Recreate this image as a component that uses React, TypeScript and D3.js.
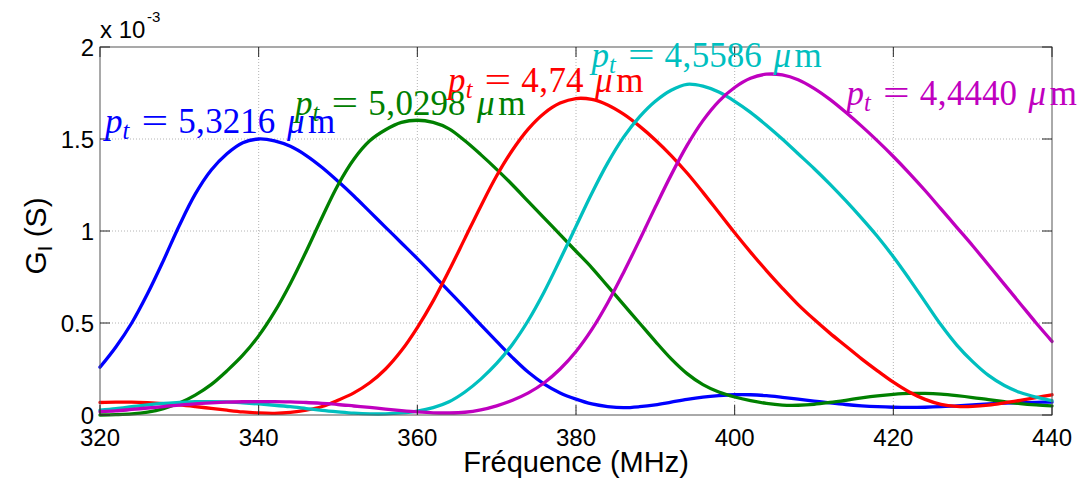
import React from 'react';
import * as d3 from 'd3';

// Frequency samples (MHz)
const freqMHz = [
  320, 322, 324, 326, 328, 330, 332, 334, 336, 338,
  340, 342, 344, 346, 348, 350, 352, 354, 356, 358,
  360, 362, 364, 366, 368, 370, 372, 374, 376, 378,
  380, 382, 384, 386, 388, 390, 392, 394, 396, 398,
  400, 402, 404, 406, 408, 410, 412, 414, 416, 418,
  420, 422, 424, 426, 428, 430, 432, 434, 436, 438, 440,
];

// Conductance G_I in units of 1e-3 S
const gBlue = [
  0.26, 0.37, 0.5, 0.66, 0.84, 1.03, 1.2, 1.33, 1.42, 1.48,
  1.5, 1.49, 1.46, 1.41, 1.345, 1.27, 1.19, 1.105, 1.02, 0.935,
  0.85, 0.762, 0.672, 0.582, 0.49, 0.4, 0.312, 0.232, 0.168, 0.12,
  0.086, 0.06, 0.046, 0.04, 0.045, 0.055, 0.07, 0.085, 0.097, 0.105,
  0.11, 0.11, 0.105, 0.096, 0.086, 0.076, 0.066, 0.057, 0.05, 0.045,
  0.042, 0.041, 0.042, 0.045, 0.05, 0.055, 0.06, 0.064, 0.067, 0.069, 0.07,
];
const gGreen = [
  0.0, 0.002, 0.006, 0.016, 0.035, 0.065, 0.108, 0.165, 0.24, 0.325,
  0.43, 0.56, 0.715, 0.89, 1.075, 1.25, 1.39, 1.49, 1.55, 1.59,
  1.602, 1.59, 1.555, 1.49, 1.415, 1.335, 1.25, 1.16, 1.07, 0.98,
  0.89, 0.8, 0.7, 0.6, 0.5, 0.4, 0.305, 0.225, 0.165, 0.125,
  0.098, 0.078, 0.063, 0.054, 0.053, 0.058, 0.068, 0.08, 0.093, 0.104,
  0.112, 0.117, 0.117, 0.113, 0.105, 0.095, 0.083, 0.072, 0.062, 0.055, 0.05,
];
const gRed = [
  0.068, 0.07, 0.07, 0.067, 0.062, 0.055, 0.046, 0.036, 0.026, 0.017,
  0.011, 0.009, 0.014, 0.026, 0.046, 0.08, 0.12, 0.175, 0.25, 0.35,
  0.475, 0.62, 0.785, 0.96, 1.135, 1.3, 1.44, 1.555, 1.64, 1.695,
  1.72, 1.715, 1.685, 1.635, 1.57, 1.495, 1.41, 1.315, 1.21, 1.1,
  0.99, 0.885, 0.785, 0.69, 0.6, 0.52, 0.445, 0.375, 0.305, 0.24,
  0.178, 0.125, 0.085, 0.058, 0.047, 0.047, 0.054, 0.066, 0.08, 0.095, 0.11,
];
const gCyan = [
  0.027, 0.035, 0.045, 0.055, 0.063, 0.068, 0.072, 0.073, 0.071, 0.066,
  0.06, 0.053, 0.045, 0.035, 0.025, 0.017, 0.01, 0.006, 0.006, 0.011,
  0.021, 0.04, 0.072, 0.125, 0.195, 0.28, 0.385, 0.515, 0.67, 0.845,
  1.025, 1.205, 1.37, 1.51, 1.62, 1.705, 1.765, 1.797, 1.787, 1.755,
  1.705, 1.645, 1.575, 1.5, 1.42, 1.34, 1.255, 1.165, 1.07, 0.97,
  0.86, 0.74, 0.615, 0.49, 0.38, 0.29, 0.215, 0.16, 0.122, 0.097, 0.078,
];
const gMagenta = [
  0.018, 0.022, 0.03, 0.038, 0.046, 0.054, 0.061, 0.066, 0.07, 0.072,
  0.073, 0.073, 0.071, 0.068, 0.063, 0.057, 0.049, 0.041, 0.032, 0.024,
  0.017, 0.012, 0.011, 0.015, 0.028, 0.05, 0.08, 0.12, 0.175, 0.25,
  0.345, 0.465, 0.61, 0.775, 0.95, 1.13, 1.305, 1.465, 1.6, 1.705,
  1.78, 1.83, 1.852, 1.848, 1.822, 1.775, 1.715, 1.645, 1.57, 1.49,
  1.405, 1.315, 1.22, 1.12, 1.02, 0.92, 0.815, 0.71, 0.605, 0.5, 0.4,
];

const seriesValues = [gBlue, gGreen, gRed, gCyan, gMagenta];
const seriesColors = ['#0000ff', '#008000', '#ff0000', '#00bfbf', '#bf00bf'];
const seriesPitch = ['5,3216', '5,0298', '4,74', '4,5586', '4,4440'];
// label anchor (left of "p", baseline) in data units
const labelFreq = [320.63, 344.58, 363.87, 381.95, 414.1];
const labelG = [1.533, 1.63, 1.757, 1.89, 1.685];

const xTicks = [320, 340, 360, 380, 400, 420, 440];
const yTicks = [0, 0.5, 1, 1.5, 2];
const yTickLabels = ['0', '0.5', '1', '1.5', '2'];

const SANS = "'Liberation Sans', Arial, Helvetica, sans-serif";
const SERIF = "'Liberation Serif', 'Times New Roman', serif";

function MathLabel({ x0, y0, pitch, color }: { x0: number; y0: number; pitch: string; color: string }) {
  const em = 35;
  const tStart = 0.503 * em;
  const eqCenter = (0.503 + 0.253 + 0.278 + 0.389) * em;
  const numStart = (0.503 + 0.253 + 0.278 + 0.778 + 0.278) * em;
  let numW = 0;
  for (const ch of pitch) numW += ch === ',' ? 0.278 : 0.5;
  const muStart = numStart + (numW + 0.333) * em;
  const mStart = muStart + 0.603 * em;
  let cx = numStart;
  const digits = pitch.split('').map((ch, i) => {
    const w = (ch === ',' ? 0.278 : 0.5) * em;
    const el = (
      <text key={i} x={cx + w / 2} y={0} fontSize={em} textAnchor="middle">{ch}</text>
    );
    cx += w;
    return el;
  });
  return (
    <g transform={`translate(${x0},${y0})`} fill={color} fontFamily={SERIF}>
      <text x={0} y={0} fontSize={em} fontStyle="italic">p</text>
      <text x={tStart} y={0.17 * em} fontSize={em * 0.7} fontStyle="italic">t</text>
      <text
        x={0}
        y={0}
        fontSize={em}
        textAnchor="middle"
        transform={`translate(${eqCenter},0) scale(1.35,1)`}
      >=</text>
      {digits}
      <text x={muStart} y={0} fontSize={em} fontStyle="italic">μ</text>
      <text x={mStart} y={0} fontSize={em}>m</text>
    </g>
  );
}

export default function App() {
  const W = 1080;
  const H = 480;
  const x = d3.scaleLinear().domain([320, 440]).range([100, 1052]);
  const y = d3.scaleLinear().domain([0, 2]).range([415, 47]);
  const [x0, x1] = x.range();
  const [yb, yt] = y.range();

  const line = d3
    .line<number>()
    .x((_, i) => x(freqMHz[i]))
    .y((d) => y(d))
    .curve(d3.curveCatmullRom.alpha(0.5));

  const tickLen = 10;
  const axisColor = '#262626';

  return (
    <>
      <style>{`body{margin:0}`}</style>
      <svg width={W} height={H} style={{ display: 'block', background: '#fff' }}>
        <rect x={0} y={0} width={W} height={H} fill="#fff" />
        {/* grid */}
        <g stroke="#b4b4b4" strokeWidth={1} strokeDasharray="1,2">
          {xTicks.slice(1, -1).map((t) => (
            <line key={'gx' + t} x1={x(t)} x2={x(t)} y1={yt} y2={yb} />
          ))}
          {yTicks.slice(1, -1).map((t) => (
            <line key={'gy' + t} x1={x0} x2={x1} y1={y(t)} y2={y(t)} />
          ))}
        </g>
        {/* curves */}
        <g fill="none" strokeWidth={3.3} strokeLinejoin="round" strokeLinecap="round">
          {seriesValues.map((vals, i) => (
            <path key={i} d={line(vals) || ''} stroke={seriesColors[i]} />
          ))}
        </g>
        {/* axes box & ticks */}
        <g stroke={axisColor} strokeWidth={1}>
          <rect x={x0} y={yt} width={x1 - x0} height={yb - yt} fill="none" stroke="#555" />
          {xTicks.map((t) => (
            <g key={'tx' + t}>
              <line x1={x(t)} x2={x(t)} y1={yb} y2={yb - tickLen} />
              <line x1={x(t)} x2={x(t)} y1={yt} y2={yt + tickLen} />
            </g>
          ))}
          {yTicks.map((t) => (
            <g key={'ty' + t}>
              <line x1={x0} x2={x0 + tickLen} y1={y(t)} y2={y(t)} />
              <line x1={x1} x2={x1 - tickLen} y1={y(t)} y2={y(t)} />
            </g>
          ))}
        </g>
        {/* tick labels */}
        <g fontFamily={SANS} fontSize={24} fill="#000">
          {xTicks.map((t) => (
            <text key={'lx' + t} x={x(t)} y={yb + 30.5} textAnchor="middle">{t}</text>
          ))}
          {yTicks.map((t, i) => (
            <text key={'ly' + t} x={x0 - 6} y={y(t) + 8.6} textAnchor="end">{yTickLabels[i]}</text>
          ))}
          <text x={x0} y={38}>x 10</text>
          <text x={147} y={22} fontSize={15}>-3</text>
        </g>
        {/* axis titles */}
        <text x={(x0 + x1) / 2} y={472} textAnchor="middle" fontFamily={SANS} fontSize={29}>
          Fréquence (MHz)
        </text>
        <g transform={`translate(46,236) rotate(-90)`} fontFamily={SANS} fontSize={30}>
          <text textAnchor="middle">
            G<tspan fontSize={20} dy={6}>I</tspan>
            <tspan dy={-6}> (S)</tspan>
          </text>
        </g>
        {/* labels */}
        {seriesPitch.map((p, i) => (
          <MathLabel key={i} x0={x(labelFreq[i])} y0={y(labelG[i])} pitch={p} color={seriesColors[i]} />
        ))}
      </svg>
    </>
  );
}
